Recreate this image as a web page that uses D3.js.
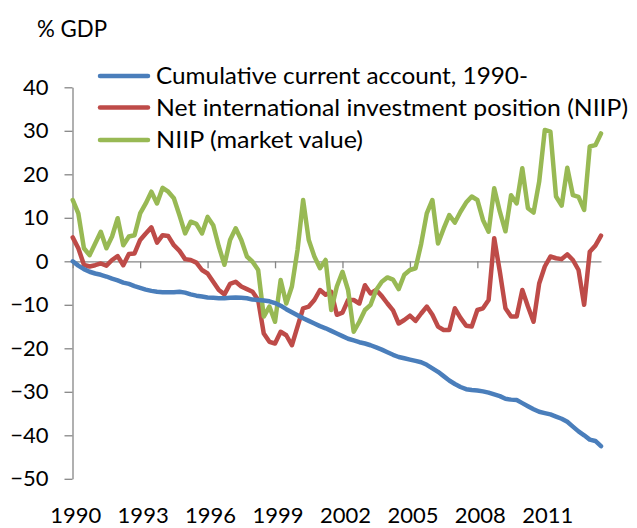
<!DOCTYPE html>
<html>
<head>
<meta charset="utf-8">
<script src="https://cdn.jsdelivr.net/npm/d3@7"></script>
<style>
  html, body { margin: 0; padding: 0; background: #fff; }
  svg { display: block; }
  text { font-family: Lato, "Open Sans", sans-serif; fill: #000; }
</style>
</head>
<body>
<svg id="chart" width="637" height="528"></svg>
<script>
// ---- data (quarterly, 1990Q1 ... 2013Q3) ----
const seriesNames = [
  "Cumulative current account, 1990-",
  "Net international investment position (NIIP)",
  "NIIP (market value)"
];
const seriesColors = ["#4A7EBB", "#BE4B48", "#98B954"];

const cumulativeCA = [
  0,-1.0,-1.8,-2.4,-2.8,-3.1,-3.5,-4.0,-4.4,-4.9,
  -5.2,-5.7,-6.1,-6.5,-6.8,-7.0,-7.1,-7.1,-7.1,-7.0,
  -7.2,-7.6,-7.9,-8.1,-8.3,-8.4,-8.5,-8.5,-8.4,-8.3,
  -8.4,-8.5,-8.8,-8.9,-9.0,-9.2,-9.6,-10.2,-11.0,-11.7,
  -12.4,-13.1,-13.7,-14.3,-14.9,-15.4,-16.0,-16.6,-17.2,-17.8,
  -18.2,-18.6,-18.9,-19.3,-19.8,-20.3,-20.9,-21.5,-22.0,-22.3,
  -22.6,-22.9,-23.2,-23.8,-24.6,-25.4,-26.4,-27.4,-28.2,-28.9,
  -29.4,-29.6,-29.7,-29.9,-30.2,-30.6,-31.0,-31.6,-31.8,-31.9,
  -32.6,-33.3,-34.0,-34.6,-34.9,-35.2,-35.7,-36.2,-36.9,-38.0,
  -39.1,-40.0,-41.0,-41.3,-42.5
];
const niip = [
  5.5,3.0,-0.8,-1.2,-0.9,-0.5,-1.0,0.3,1.2,-0.9,
  1.7,1.8,4.9,6.4,7.8,4.3,6.0,5.8,3.7,2.4,
  0.5,0.3,-0.3,-2.0,-2.8,-4.7,-6.6,-7.6,-5.2,-4.7,
  -5.8,-6.4,-7.0,-8.9,-16.6,-18.5,-18.9,-16.2,-17.0,-19.3,
  -15.0,-10.8,-10.4,-8.9,-6.6,-7.7,-7.0,-12.3,-11.8,-8.9,
  -8.9,-9.7,-5.5,-7.4,-6.6,-8.0,-9.7,-11.3,-14.3,-13.5,
  -12.5,-13.7,-12.0,-10.4,-12.3,-15.0,-15.8,-15.8,-10.8,-13.0,
  -14.8,-15.0,-11.2,-10.8,-8.9,5.3,-2.4,-10.8,-12.7,-12.7,
  -6.6,-10.4,-13.9,-5.1,-1.2,1.1,0.7,0.5,1.6,0.3,
  -2.0,-10.0,2.2,3.6,5.9
];
const niipMarket = [
  14.1,11.0,3.0,1.4,4.1,6.8,3.0,5.7,9.9,3.7,
  5.7,6.0,11.0,13.3,16.0,13.3,16.9,16.0,14.5,10.6,
  6.4,9.1,8.6,6.4,10.2,8.3,3.4,-0.8,4.9,7.6,
  4.9,1.1,-0.1,-2.0,-12.7,-10.4,-13.9,-4.3,-9.7,-5.8,
  2.6,14.1,4.9,1.1,-1.6,0.3,-11.2,-5.8,-2.4,-6.6,
  -16.2,-13.9,-11.2,-10.0,-6.6,-4.7,-3.7,-4.2,-6.4,-3.1,
  -2.0,-1.6,4.0,11.0,14.1,4.1,7.5,10.6,8.9,11.4,
  13.5,14.9,14.1,9.5,6.8,16.8,11.4,6.9,15.2,13.3,
  21.4,12.2,11.2,18.3,30.2,29.8,14.9,12.8,21.5,15.2,
  14.8,11.8,26.4,26.7,29.4
];
const yTicks = [40,30,20,10,0,-10,-20,-30,-40,-50];
const xTickLabels = ["1990","1993","1996","1999","2002","2005","2008","2011"];
const yTitle = "% GDP";

// ---- layout ----
const svg = d3.select("#chart");
const fontSize = 22;
const nPts = cumulativeCA.length;
const x = d3.scaleLinear().domain([0, nPts - 1]).range([72.7, 601]);
const y = d3.scaleLinear().domain([-50, 40]).range([478.8, 87.3]);
const axisColor = "#868686";

// y axis
const yAxis = svg.append("g").attr("transform", "translate(72.5,0)")
  .call(d3.axisLeft(y).tickValues(yTicks).tickSize(8).tickSizeOuter(0).tickPadding(16));
yAxis.select(".domain").attr("stroke", axisColor).attr("stroke-width", 1.3);
yAxis.selectAll(".tick line").attr("stroke", axisColor).attr("stroke-width", 1.3);
yAxis.selectAll(".tick text").attr("font-size", fontSize).attr("font-family", "Lato").attr("fill", "#000");

// x axis on zero line
const tickIdx = xTickLabels.map((d, i) => i * 12);
const xAxis = svg.append("g").attr("transform", `translate(0,${y(0)})`)
  .call(d3.axisBottom(x).tickValues(tickIdx).tickSize(7).tickSizeOuter(0).tickFormat(""));
xAxis.select(".domain").attr("stroke", axisColor).attr("stroke-width", 1.3);
xAxis.selectAll(".tick line").attr("stroke", axisColor).attr("stroke-width", 1.3);

// x labels at bottom
svg.append("g").selectAll("text").data(xTickLabels).join("text")
  .attr("x", (d, i) => x(tickIdx[i]) + 3)
  .attr("y", 523)
  .attr("text-anchor", "middle")
  .attr("font-size", fontSize)
  .text(d => d);

// y title
svg.append("text").attr("x", 37).attr("y", 37).attr("font-size", 23)
  .attr("textLength", 70).attr("lengthAdjust", "spacingAndGlyphs").text(yTitle);

// lines
const allSeries = [cumulativeCA, niip, niipMarket];
const line = d3.line().x((d, i) => x(i)).y(d => y(d));
[1, 2, 0].forEach(k => {
  svg.append("path").datum(allSeries[k])
    .attr("fill", "none")
    .attr("stroke", seriesColors[k])
    .attr("stroke-width", 4.5)
    .attr("stroke-linejoin", "round")
    .attr("stroke-linecap", "round")
    .attr("d", line);
});

// legend
const legY = [76, 107.5, 140];
const legW = [372, 472, 207];
const leg = svg.append("g");
seriesNames.forEach((name, k) => {
  leg.append("line").attr("x1", 100).attr("x2", 148)
    .attr("y1", legY[k]).attr("y2", legY[k])
    .attr("stroke", seriesColors[k]).attr("stroke-width", 4.5).attr("stroke-linecap", "round");
  leg.append("text").attr("x", 156).attr("y", legY[k] + 8.3)
    .attr("font-size", 23)
    .attr("textLength", legW[k]).attr("lengthAdjust", "spacingAndGlyphs")
    .text(name);
});
</script>
</body>
</html>
